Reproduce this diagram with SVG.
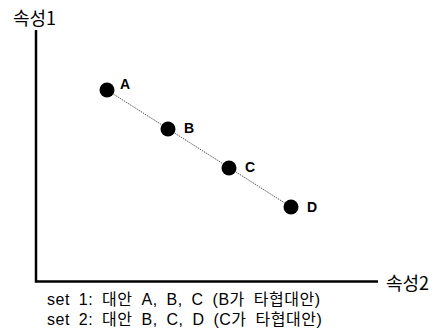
<svg xmlns="http://www.w3.org/2000/svg" width="438" height="336" viewBox="0 0 438 336">
<style>
.axis{stroke:#000;stroke-width:2.5;fill:none}
.dot{fill:#000}
.lbl{font-family:"Liberation Sans",Arial,sans-serif;font-weight:bold;font-size:14px;fill:#000}
.txt{font-family:"Noto Sans CJK KR","Noto Sans",sans-serif;font-size:18px;fill:#000}
.note{font-family:"Liberation Sans","Noto Sans CJK KR",sans-serif;font-size:16px;fill:#000;word-spacing:4px;letter-spacing:0.5px}
</style>
<rect width="438" height="336" fill="#fff"/>
<g id="axes">
<path class="axis" d="M36,30 V281.5 H378"/>
<text class="txt" x="13" y="25">속성1</text>
<text class="txt" x="386" y="290">속성2</text>
</g>
<g id="connectors">
<line x1="107" y1="90" x2="291" y2="207" stroke="#555" stroke-width="1" stroke-dasharray="1.5,1"/>
</g>
<g id="node-A"><circle class="dot" cx="107" cy="90" r="7.5"/><text class="lbl" x="120" y="89">A</text></g>
<g id="node-B"><circle class="dot" cx="168" cy="129" r="7.5"/><text class="lbl" x="184" y="133">B</text></g>
<g id="node-C"><circle class="dot" cx="229" cy="168" r="7.5"/><text class="lbl" x="245" y="172">C</text></g>
<g id="node-D"><circle class="dot" cx="291" cy="207" r="7.5"/><text class="lbl" x="307" y="212">D</text></g>
<g id="notes">
<text class="note" x="47" y="305">set 1: 대안 A, B, C (B가 타협대안)</text>
<text class="note" x="47" y="325">set 2: 대안 B, C, D (C가 타협대안)</text>
</g>
</svg>
